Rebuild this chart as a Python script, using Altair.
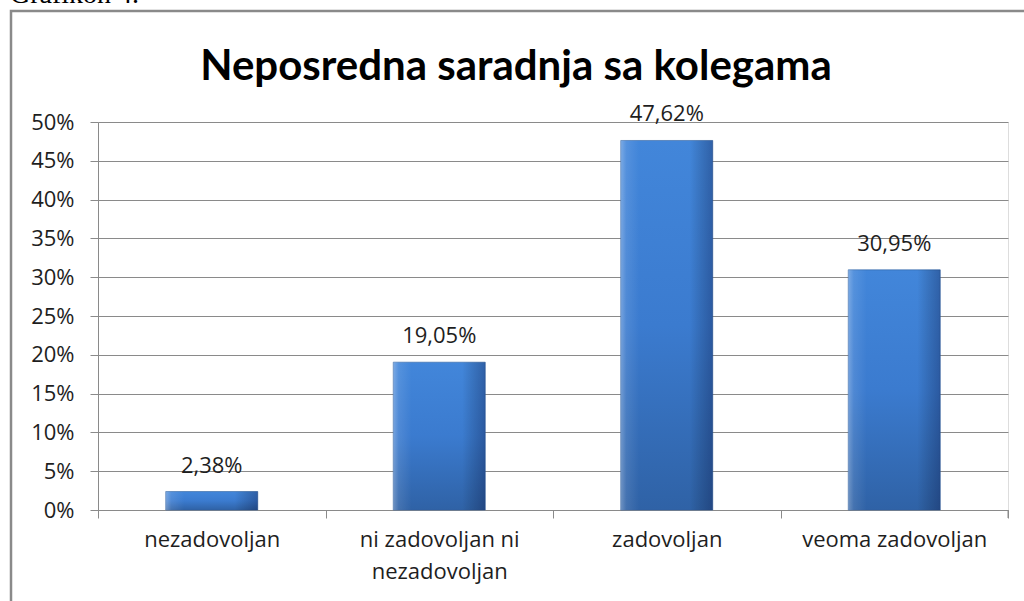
import altair as alt
import pandas as pd

categories = ["nezadovoljan", "ni zadovoljan ni nezadovoljan", "zadovoljan", "veoma zadovoljan"]
values = [0.0238, 0.1905, 0.4762, 0.3095]
value_labels = ["2,38%", "19,05%", "47,62%", "30,95%"]
y_ticks = [0, 0.05, 0.10, 0.15, 0.20, 0.25, 0.30, 0.35, 0.40, 0.45, 0.50]
title_text = "Neposredna saradnja sa kolegama"
caption_text = "Grafikon 4."

df = pd.DataFrame({"cat": categories, "val": values, "lab": value_labels})
one = pd.DataFrame({"a": [0]})

FONT = "Open Sans"
TFONT = "Lato"
GRID = "#8a8a8a"
TXT = "#1e1e1e"

vgrad = alt.Gradient(
    gradient="linear", x1=0, x2=0, y1=0, y2=1,
    stops=[
        alt.GradientStop(color="#4286da", offset=0),
        alt.GradientStop(color="#3b7bcf", offset=0.5),
        alt.GradientStop(color="#2f62a6", offset=1),
    ],
)
hgrad = alt.Gradient(
    gradient="linear", x1=0, x2=1, y1=0, y2=0,
    stops=[
        alt.GradientStop(color="rgba(255,255,255,0.30)", offset=0),
        alt.GradientStop(color="rgba(255,255,255,0.10)", offset=0.06),
        alt.GradientStop(color="rgba(255,255,255,0)", offset=0.2),
        alt.GradientStop(color="rgba(0,0,0,0)", offset=0.75),
        alt.GradientStop(color="rgba(0,0,40,0.28)", offset=1),
    ],
)

x_enc = alt.X(
    "cat:N", sort=categories, title=None,
    scale=alt.Scale(paddingInner=0, paddingOuter=0),
    axis=alt.Axis(
        labelAngle=0, labelFont=FONT, labelFontSize=22, labelColor=TXT,
        labelPadding=11, labelLineHeight=32, labelBaseline="top",
        labelExpr="datum.value == 'ni zadovoljan ni nezadovoljan' ? ['ni zadovoljan ni', 'nezadovoljan'] : datum.value",
        tickSize=8, tickColor=GRID, tickBand="extent",
        domainColor=GRID, grid=False, labelLimit=300,
    ),
)
y_enc = alt.Y(
    "val:Q", title=None,
    scale=alt.Scale(domain=[0, 0.5], nice=False),
    axis=alt.Axis(
        values=y_ticks, format=".0%", labelFont=FONT, labelFontSize=22,
        labelColor=TXT, labelPadding=16, tickSize=8, tickColor=GRID,
        domainColor=GRID, gridColor=GRID, gridWidth=1, labelOverlap=False,
    ),
)

bars = alt.Chart(df).mark_bar(size=92, fill=vgrad, stroke="#2f5f9e", strokeWidth=0.6).encode(
    x=x_enc, y=y_enc
)
shade = alt.Chart(df).mark_bar(size=92, fill=hgrad).encode(x=x_enc, y=y_enc)
labels = alt.Chart(df).mark_text(
    font=FONT, fontSize=22, color=TXT, baseline="alphabetic", dy=-19
).encode(x=x_enc, y=y_enc, text="lab:N")

end_tick = alt.Chart(one).mark_rule(color=GRID).encode(
    x=alt.value(910), y=alt.value(388), y2=alt.value(396)
)

frame = alt.Chart(one).mark_rect(fill="transparent", stroke="#8a8a8a", strokeWidth=2.5).encode(
    x=alt.value(-87), x2=alt.value(940), y=alt.value(-111), y2=alt.value(640)
)

title = alt.Chart(one).mark_text(
    text=title_text, font=TFONT, fontSize=42, fontWeight="bold", color="#000000",
    align="center", baseline="middle"
).encode(x=alt.value(418), y=alt.value(-55))

caption = alt.Chart(one).mark_text(
    text=caption_text, font="Liberation Serif", fontSize=28, color="#000000",
    align="left", baseline="alphabetic"
).encode(x=alt.value(-88), y=alt.value(-119))

chart = alt.layer(frame, bars, shade, labels, end_tick, title, caption).properties(
    width=910, height=388,
    autosize=alt.AutoSizeParams(type="none"),
    padding={"left": 98, "top": 122, "right": 16, "bottom": 91},
).configure_view(stroke=None).configure(background="white")

chart.save("out.html", embed_options={"renderer": "svg", "actions": False})
